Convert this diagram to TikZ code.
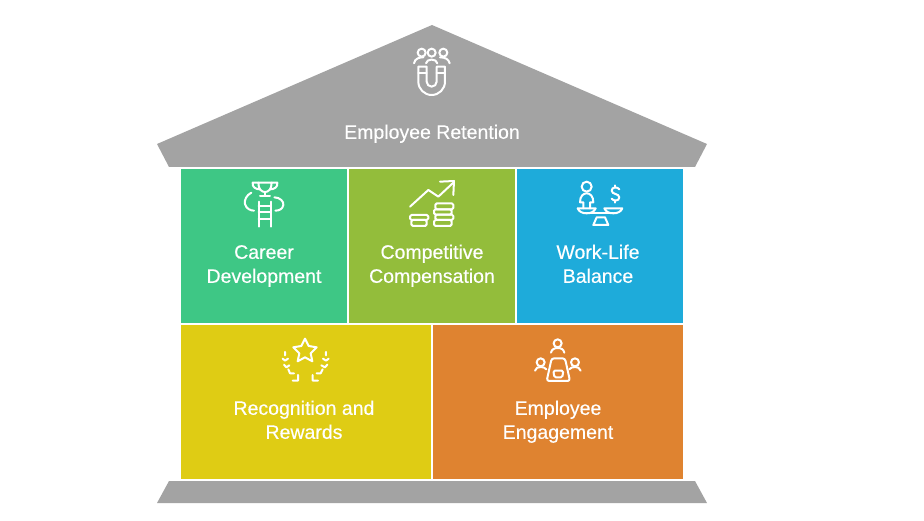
\documentclass[tikz,border=0pt]{standalone}
\usepackage{fontspec}
\setmainfont[FakeBold=0.35]{Liberation Sans}
\tikzset{
  panel/.style={rectangle,draw=none,inner sep=0pt,minimum width=#1},
  lbl/.style={text=white,align=center,inner sep=0pt,font=\fontsize{19.5}{24}\selectfont},
  ico/.style={draw=white,line width=2pt,line cap=round,line join=round},
  zoomed/.style={x=0.3333pt,y=-0.3333pt}
}
\definecolor{roofgray}{HTML}{A3A3A3}
\definecolor{cgreen}{HTML}{3EC785}
\definecolor{colive}{HTML}{93BD3B}
\definecolor{cblue}{HTML}{1EABDA}
\definecolor{cyellow}{HTML}{DFCC14}
\definecolor{corange}{HTML}{DF8330}
\begin{document}
\begin{tikzpicture}[x=1pt,y=-1pt]
\useasboundingbox (0,0) rectangle (924,521);
\fill[roofgray] (432,25) -- (707,144) -- (695,167) -- (169,167) -- (157,144) -- cycle;
\fill[roofgray] (169,481) -- (695,481) -- (707,503) -- (157,503) -- cycle;
\node[panel=166pt,minimum height=154pt,fill=cgreen] (b1) at (264,246) {};
\node[panel=166pt,minimum height=154pt,fill=colive] (b2) at (432,246) {};
\node[panel=166pt,minimum height=154pt,fill=cblue] (b3) at (600,246) {};
\node[panel=250pt,minimum height=154pt,fill=cyellow] (b4) at (306,402) {};
\node[panel=250pt,minimum height=154pt,fill=corange] (b5) at (558,402) {};
\node[lbl] (t0) at (432,134) {\strut Employee Retention};
\node[lbl] (t1) at (264,266) {\strut Career\\\strut Development};
\node[lbl] (t2) at (432,266) {\strut Competitive\\\strut Compensation};
\node[lbl] (t3) at (598,266) {\strut Work-Life\\\strut Balance};
\node[lbl] (t4) at (304,422) {\strut Recognition and\\\strut Rewards};
\node[lbl] (t5) at (558,422) {\strut Employee\\\strut Engagement};
% magnet and people
\begin{scope}[shift={(380,20)},zoomed,ico]
\draw (125,98) circle (12); \draw (155,98) circle (12); \draw (190,98) circle (12);
\draw (102,130) .. controls (105,115) and (118,112) .. (130,112);
\draw (138,130) .. controls (140,115) and (170,115) .. (172,130);
\draw (180,112) .. controls (195,112) and (206,117) .. (209,130);
\draw (115,140) -- (115,185) arc[start angle=180,end angle=0,radius=40] -- (195,140) -- (170,140) -- (170,185) arc[start angle=0,end angle=180,radius=15] -- (140,140) -- cycle;
\draw (115,160) -- (140,160) (170,160) -- (195,160);
\end{scope}
% trophy and ladder
\begin{scope}[shift={(230,170)},zoomed,ico]
\draw (85,38) -- (125,38) .. controls (125,58) and (115,66) .. (105,66) .. controls (95,66) and (85,58) .. (85,38);
\draw (85,38) -- (68,38) .. controls (66,52) and (78,58) .. (90,58);
\draw (125,38) -- (142,38) .. controls (144,52) and (132,58) .. (120,58);
\draw (105,66) -- (105,78) (90,78) -- (120,78);
\draw (86,95) -- (86,170) (122,95) -- (122,170);
\draw (86,108) -- (122,108) (86,127) -- (122,127) (86,146) -- (122,146);
\draw (64,68) .. controls (50,75) and (42,90) .. (45,102) .. controls (48,115) and (60,122) .. (72,122);
\draw (133,82) .. controls (150,82) and (162,95) .. (160,105) .. controls (158,117) and (148,122) .. (136,122);
\end{scope}
% growth and coins
\begin{scope}[shift={(400,170)},zoomed,ico]
\draw (30,110) -- (85,60) -- (115,80) -- (160,38);
\draw (120,35) -- (162,33) -- (160,75);
\draw[rounded corners=1.5pt] (30,135) rectangle (85,150);
\draw[rounded corners=1.5pt] (34,150) rectangle (80,168);
\draw[rounded corners=1.5pt] (106,100) rectangle (160,118);
\draw[rounded corners=1.5pt] (102,118) rectangle (155,134);
\draw[rounded corners=1.5pt] (106,134) rectangle (160,150);
\draw[rounded corners=1.5pt] (102,150) rectangle (155,168);
\end{scope}
% balance
\begin{scope}[shift={(565,170)},zoomed,ico]
\draw (65,50) circle (15);
\draw (55,115) -- (55,97) -- (45,97) .. controls (45,78) and (55,70) .. (65,70) .. controls (75,70) and (85,78) .. (85,97) -- (75,97) -- (75,115);
\draw (38,115) -- (92,115) .. controls (88,125) and (78,130) .. (65,130) .. controls (52,130) and (42,125) .. (38,115);
\draw (118,115) -- (172,115) .. controls (168,125) and (158,130) .. (145,130) .. controls (132,130) and (122,125) .. (118,115);
\draw (65,130) -- (145,130);
\draw (95,142) -- (120,142) -- (130,165) -- (85,165) -- cycle;
\draw (163,58) .. controls (158,50) and (140,50) .. (140,62) .. controls (140,74) and (163,70) .. (163,82) .. controls (163,94) and (145,94) .. (140,86);
\draw (151,46) -- (151,52) (151,92) -- (151,98);
\end{scope}
% star and laurels
\begin{scope}[shift={(270,330)},zoomed,ico]
\draw (105,26) -- (116,48) -- (140,52) -- (122,70) -- (127,94) -- (105,82) -- (83,94) -- (88,70) -- (70,52) -- (94,48) -- cycle;
\draw (45,66) -- (45,76) (38,86) -- (45,92) -- (54,86) (42,104) -- (49,112) -- (58,106) (55,118) -- (60,130) -- (72,130) (68,152) -- (84,152) -- (84,135);
\draw (168,66) -- (168,76) (176,86) -- (168,92) -- (159,86) (172,104) -- (165,112) -- (154,106) (158,118) -- (152,130) -- (140,130) (144,152) -- (128,152) -- (128,135);
\end{scope}
% meeting
\begin{scope}[shift={(525,330)},zoomed,ico]
\draw (98,40) circle (12);
\draw (78,68) .. controls (80,58) and (88,54) .. (98,54) .. controls (108,54) and (116,58) .. (118,68);
\draw (47,97) circle (12);
\draw (30,122) .. controls (32,113) and (40,111) .. (47,111) .. controls (54,111) and (60,113) .. (64,118);
\draw (150,97) circle (12);
\draw (167,122) .. controls (165,113) and (157,111) .. (150,111) .. controls (143,111) and (137,113) .. (133,118);
\draw[rounded corners=2.5pt] (80,85) -- (120,85) -- (135,153) -- (65,153) -- cycle;
\draw[rounded corners=1.5pt] (85,122) -- (115,122) -- (112,142) -- (88,142) -- cycle;
\end{scope}
\end{tikzpicture}
\end{document}
